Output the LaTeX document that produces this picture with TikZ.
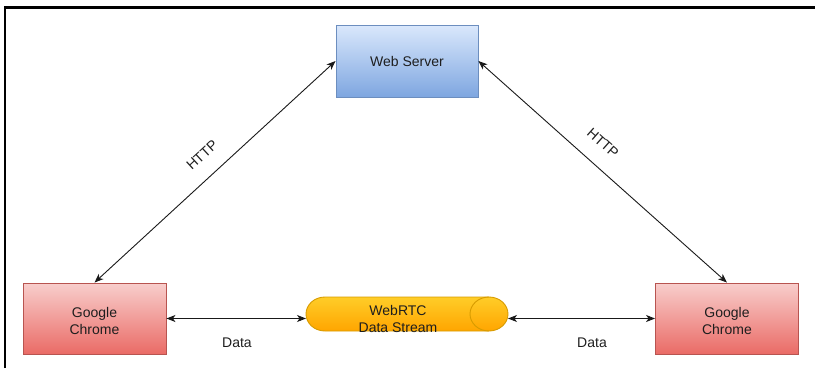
\documentclass[tikz,border=0pt]{standalone}
\usepackage{fontspec}
\setmainfont{Liberation Sans}
\usetikzlibrary{arrows.meta}
\definecolor{wsTop}{HTML}{DAE8FC}
\definecolor{wsBot}{HTML}{7EA6E0}
\definecolor{wsLine}{HTML}{6C8EBF}
\definecolor{chTop}{HTML}{F8CECC}
\definecolor{chBot}{HTML}{EA6B66}
\definecolor{chLine}{HTML}{B85450}
\definecolor{cyTop}{HTML}{FFCD28}
\definecolor{cyBot}{HTML}{FFA500}
\definecolor{cyLine}{HTML}{D79B00}
\definecolor{txt}{HTML}{1E1E1E}
\begin{document}
\begin{tikzpicture}[x=1pt,y=1pt,
  every node/.style={font=\fontsize{14}{16.5}\selectfont, text=txt, align=center},
  wsbox/.style={draw=wsLine, line width=0.9pt, top color=wsTop, bottom color=wsBot, minimum width=142pt, minimum height=72pt, inner sep=0pt},
  chbox/.style={draw=chLine, line width=0.9pt, top color=chTop, bottom color=chBot, minimum width=143pt, minimum height=71pt, inner sep=0pt},
  conn/.style={draw=black!90, line width=0.9pt, {Stealth[length=9pt,width=7pt,inset=2.5pt]}-{Stealth[length=9pt,width=7pt,inset=2.5pt]}},
  lbl/.style={inner sep=1pt}
]
\useasboundingbox (0,0) rectangle (815,368);
\draw[line width=2.2pt, black] (5,0) -- (5,360.5) -- (815,360.5);

\node[wsbox] (ws) at (407,307) {Web Server};
\node[chbox] (lc) at (94.5,49.5) {};
\node[chbox] (rc) at (727,49.5) {};
\node (lct) at ([yshift=-2.5pt]lc.center) {Google\\Chrome};
\node (rct) at ([yshift=-2.5pt]rc.center) {Google\\Chrome};

% cylinder
\draw[cyLine, line width=0.9pt, top color=cyTop, bottom color=cyBot]
  (325,71) -- (489,71) arc[start angle=90,end angle=-90,x radius=19,y radius=17]
  -- (325,37) arc[start angle=270,end angle=90,x radius=19,y radius=17] -- cycle;
\draw[cyLine, line width=0.9pt] (489,71) arc[start angle=90,end angle=270,x radius=19,y radius=17];
\node (cyl) at (398,49) {WebRTC\\Data Stream};
\coordinate (cylL) at (306,49.5);
\coordinate (cylR) at (508,49.5);

\draw[conn] (lc.east) -- (cylL);
\draw[conn] (cylR) -- (rc.west);
\draw[conn] (lc.north) -- (ws.west);
\draw[conn] (ws.east) -- (rc.north);

\node[lbl] (d1) at (237,25) {Data};
\node[lbl] (d2) at (592,25) {Data};
\node[lbl, rotate=42.6] (h1) at (202,213) {HTTP};
\node[lbl, rotate=-41.6] (h2) at (603,225) {HTTP};
\end{tikzpicture}
\end{document}
